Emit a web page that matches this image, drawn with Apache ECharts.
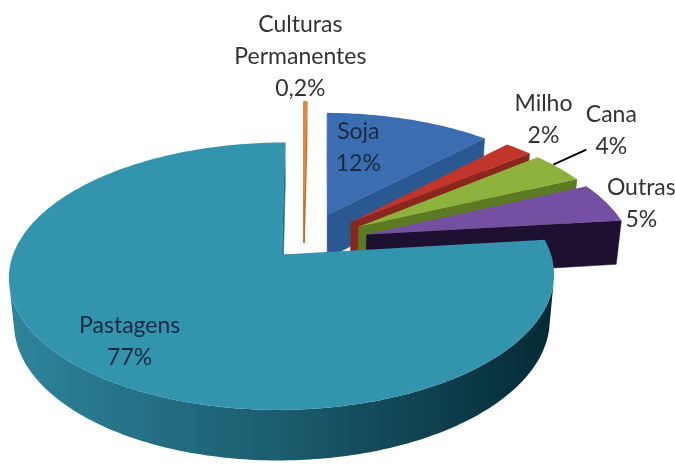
<!DOCTYPE html>
<html>
<head>
<meta charset="utf-8">
<script src="https://cdn.jsdelivr.net/npm/echarts@6/dist/echarts.min.js"></script>
<style>
  html, body { margin: 0; padding: 0; background: #ffffff; }
  #chart { width: 675px; height: 470px; }
</style>
</head>
<body>
<div id="chart"></div>
<script>
// Land use shares (%)
const categories = ['Culturas Permanentes', 'Soja', 'Milho', 'Cana', 'Outras', 'Pastagens'];
const shares = [0.2, 12, 2, 4, 5, 77];
const labelNames = ['Culturas\nPermanentes', 'Soja', 'Milho', 'Cana', 'Outras', 'Pastagens'];

// Slice styling
const topColors  = ['#e0893a', '#3b6db1', '#c2352b', '#8db23e', '#7550a2', '#3394ae'];
const faceColors = ['#c26f22', '#2a5991', '#8a261c', '#5b7a22', '#1e1030', '#1d6b82'];
const wallLight  = ['#c26f22', '#2a5991', '#8a261c', '#5b7a22', '#2a1840', '#2e849c'];
const wallDark   = ['#8a4a10', '#17345a', '#5a150e', '#3a5012', '#12081e', '#042a35'];
const explode    = [0.36, 0.25, 0.25, 0.25, 0.25, 0.12];
// label placement: radius along the slice's middle angle, then pixel nudge
const labelRadius = [1.0, 0.5, 1.0, 1.0, 1.0, 0.6];
const labelNudge  = [[-5, -45], [-13, -16], [25, -29], [53, -37], [35, 1], [-35, 24]];
const labelInside = [false, true, false, false, false, true];

// Perspective camera for the tilted disc
const TILT = 28.5 * Math.PI / 180;
const SIN = Math.sin(TILT), COS = Math.cos(TILT);
const VIEW = { cx: 303.5, cy: 243, F: 1458, D: 5.5, h: 0.195 };

function project(X, Y, Z) {
  const depth = VIEW.D - Y * SIN - Z * COS;
  return [VIEW.cx + VIEW.F * X / depth, VIEW.cy - VIEW.F * (Y * COS - Z * SIN) / depth];
}

function signedArea(pts) {
  let s = 0;
  for (let k = 0; k < pts.length; k++) {
    const p = pts[k], q = pts[(k + 1) % pts.length];
    s += p[0] * q[1] - q[0] * p[1];
  }
  return s;
}

const formatShare = v => String(v).replace('.', ',') + '%';
const total = shares.reduce((a, b) => a + b, 0);

function renderItem(params, api) {
  const i = params.dataIndex;
  const v = api.value(0);
  let before = 0;
  for (let k = 0; k < i; k++) before += shares[k];
  const a0 = before / total * 2 * Math.PI;
  const a1 = (before + v) / total * 2 * Math.PI;
  const am = (a0 + a1) / 2;
  const e = explode[i];
  const ox = e * Math.sin(am), oz = -e * Math.cos(am);
  const pt = (a, r, Y) => project(ox + r * Math.sin(a), Y, oz - r * Math.cos(a));
  const H = -VIEW.h;
  const thin = (a1 - a0) < 0.05;
  const children = [];
  const base = i * 1000;

  // radial cut faces
  const faces = [
    [pt(a1, 0, 0), pt(a1, 1, 0), pt(a1, 1, H), pt(a1, 0, H)],
    [pt(a0, 0, 0), pt(a0, 0, H), pt(a0, 1, H), pt(a0, 1, 0)]
  ];
  faces.forEach(f => {
    if (thin || signedArea(f) > 0) {
      children.push({
        type: 'polygon', z2: base + 1,
        shape: { points: f },
        style: { fill: faceColors[i], stroke: faceColors[i], lineWidth: thin ? 1.5 : 0.5 }
      });
    }
  });

  // outer wall: contiguous front-facing runs, each as one shaded band
  const steps = Math.max(2, Math.ceil((a1 - a0) / (Math.PI / 180)));
  const runs = [];
  let run = null;
  for (let k = 0; k < steps; k++) {
    const b0 = a0 + (a1 - a0) * k / steps;
    const b1 = a0 + (a1 - a0) * (k + 1) / steps;
    const quad = [pt(b1, 1, 0), pt(b0, 1, 0), pt(b0, 1, H), pt(b1, 1, H)];
    if (signedArea(quad) > 0) {
      if (!run) { run = [b0]; runs.push(run); }
      run.push(b1);
    } else {
      run = null;
    }
  }
  runs.forEach(r => {
    const top = r.map(b => pt(b, 1, 0));
    const bottom = r.map(b => pt(b, 1, H)).reverse();
    const pts = top.concat(bottom);
    const xs = pts.map(p => p[0]);
    const xmin = Math.min.apply(null, xs), xmax = Math.max.apply(null, xs);
    children.push({
      type: 'polygon', z2: base + 2,
      shape: { points: pts },
      style: {
        fill: new echarts.graphic.LinearGradient(xmin, 0, xmax, 0, [
          { offset: 0, color: wallLight[i] },
          { offset: 0.5, color: echarts.color.lerp(0.45, [wallLight[i], wallDark[i]]) },
          { offset: 1, color: wallDark[i] }
        ], true)
      }
    });
  });

  // top face
  const topPts = [pt(a0, 0, 0)];
  const n = Math.max(2, Math.ceil((a1 - a0) / (Math.PI / 180)));
  for (let k = 0; k <= n; k++) topPts.push(pt(a0 + (a1 - a0) * k / n, 1, 0));
  children.push({
    type: 'polygon', z2: base + 3,
    shape: { points: topPts },
    style: { fill: topColors[i], stroke: thin ? topColors[i] : null, lineWidth: thin ? 1.2 : 0 }
  });

  // label
  const anchor = pt(am, labelRadius[i], 0);
  const lx = anchor[0] + labelNudge[i][0];
  const ly = anchor[1] + labelNudge[i][1];
  children.push({
    type: 'text', z2: 9000,
    x: lx, y: ly,
    style: {
      text: labelNames[i] + '\n' + formatShare(v),
      fill: labelInside[i] ? '#1a2a40' : '#333333',
      font: '23px Lato',
      lineHeight: 32,
      align: 'center', verticalAlign: 'middle'
    }
  });

  // leader line for the small cane slice
  if (categories[i] === 'Cana') {
    const rim = pt(am, 1, 0);
    children.push({
      type: 'polyline', z2: 9000,
      shape: { points: [[rim[0] - 5, rim[1] - 3], [lx - 25, ly + 19]] },
      style: { stroke: '#000000', lineWidth: 2, fill: null }
    });
  }

  return { type: 'group', children: children };
}

const chart = echarts.init(document.getElementById('chart'), null, { renderer: 'canvas' });
chart.setOption({
  animation: false,
  backgroundColor: '#ffffff',
  series: [{
    type: 'custom',
    coordinateSystem: 'none',
    renderItem: renderItem,
    data: shares.map((v, i) => ({ name: categories[i], value: [v, i] }))
  }]
});
</script>
</body>
</html>
